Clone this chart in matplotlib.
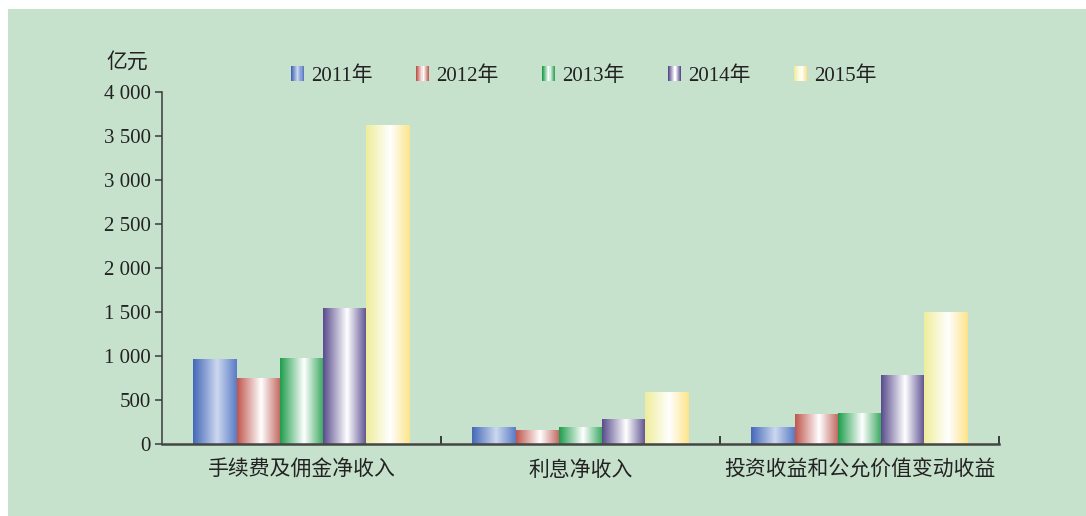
import numpy as np
import matplotlib
matplotlib.use("Agg")
import matplotlib.pyplot as plt
from matplotlib.patches import Rectangle
from matplotlib.legend_handler import HandlerBase
from matplotlib.colors import to_rgb
from matplotlib.ticker import FuncFormatter, FixedLocator

categories = ["手续费及佣金净收入", "利息净收入", "投资收益和公允价值变动收益"]
years = ["2011年", "2012年", "2013年", "2014年", "2015年"]
values = {
    "2011年": [955, 193, 182],
    "2012年": [750, 159, 330],
    "2013年": [977, 182, 352],
    "2014年": [1545, 284, 773],
    "2015年": [3614, 580, 1500],
}
yticks = [0, 500, 1000, 1500, 2000, 2500, 3000, 3500, 4000]

# gradient colour stops: left, highlight, right
grads = {
    "2011年": ("#4467b8", "#ccd8ef", "#5a7bc5"),
    "2012年": ("#bf554c", "#ffffff", "#c0645b"),
    "2013年": ("#1e9d4b", "#ffffff", "#35a65c"),
    "2014年": ("#584b8c", "#ffffff", "#5b4e8f"),
    "2015年": ("#efed9a", "#ffffff", "#fde48a"),
}
HL = 0.55
BG = "#c7e2cc"

plt.rcParams["font.family"] = ["Liberation Serif", "Noto Sans CJK SC", "DejaVu Sans"]
FS = 15


def grad_row(cols, n=256):
    l, m, r = (np.array(to_rgb(c)) for c in cols)
    t = np.linspace(0, 1, n)
    out = np.zeros((n, 3))
    for i, tt in enumerate(t):
        if tt <= HL:
            f = tt / HL
            out[i] = l * (1 - f) + m * f
        else:
            f = (tt - HL) / (1 - HL)
            out[i] = m * (1 - f) + r * f
    return out


fig = plt.figure(figsize=(10.86, 5.16), dpi=100, facecolor="white")
fig.patches.append(Rectangle((8 / 1086, 0), 1 - 8 / 1086, 1 - 9 / 516,
                             transform=fig.transFigure, facecolor=BG,
                             edgecolor="none", zorder=-10))
ax = fig.add_axes([162 / 1086, 72 / 516, 837 / 1086, 352 / 516])
ax.set_facecolor(BG)
ax.patch.set_alpha(0)

w = 0.155
x = np.arange(len(categories)) + 0.5
for i, yr in enumerate(years):
    bars = ax.bar(x + (i - 2) * w, values[yr], width=w, facecolor="none",
                  edgecolor="none", zorder=2)
    row = grad_row(grads[yr])[None, :, :]
    for b in bars:
        x0, y0 = b.get_x(), b.get_y()
        ax.imshow(row, extent=(x0, x0 + b.get_width(), y0, y0 + b.get_height()),
                  aspect="auto", interpolation="bilinear", zorder=2)

ax.set_xlim(0, 3)
ax.set_ylim(0, 4000)

for s in ["top", "right"]:
    ax.spines[s].set_visible(False)
ax.spines["left"].set_color("#3a3a3a")
ax.spines["left"].set_linewidth(1.1)
ax.spines["bottom"].set_color("#454545")
ax.spines["bottom"].set_linewidth(1.8)
ax.spines["bottom"].set_zorder(5)

ax.set_yticks(yticks)
ax.yaxis.set_major_formatter(FuncFormatter(lambda v, p: f"{int(v):,}".replace(",", " ")))
ax.tick_params(axis="y", direction="out", length=5, width=1.1, color="#3a3a3a",
               labelsize=FS, pad=3, labelcolor="#222222")

ax.xaxis.set_major_locator(FixedLocator([1, 2, 3]))
ax.xaxis.set_minor_locator(FixedLocator(list(x)))
ax.set_xticklabels([], minor=False)
ax.set_xticklabels(categories, minor=True)
ax.tick_params(axis="x", which="major", direction="in", length=6, width=1.4,
               color="#3a3a3a")
ax.tick_params(axis="x", which="minor", length=0, labelsize=FS, pad=12,
               labelcolor="#222222")

fig.text(127 / 1086, 1 - 63 / 516, "亿元", fontsize=FS, ha="center", va="center",
         color="#222222")


class GradHandler(HandlerBase):
    def create_artists(self, legend, orig_handle, xdescent, ydescent, width,
                       height, fontsize, trans):
        cols = grad_row(grads[orig_handle.get_label()], n=12)
        n = len(cols)
        arts = []
        for k, c in enumerate(cols):
            r = Rectangle((-xdescent + k * width / n, -ydescent), width / n * 1.05,
                          height, facecolor=c, edgecolor="none", transform=trans)
            arts.append(r)
        return arts


handles = [Rectangle((0, 0), 1, 1, label=yr) for yr in years]
leg = ax.legend(handles, years, handler_map={Rectangle: GradHandler()},
                loc="center", bbox_to_anchor=(0.504, 1 + 16 / 352), ncol=5,
                frameon=False, fontsize=FS, handlelength=0.6, handleheight=0.75,
                handletextpad=0.35, columnspacing=2.1, borderaxespad=0)
for t in leg.get_texts():
    t.set_color("#222222")

fig.savefig("out.png", dpi=100, facecolor="white")
